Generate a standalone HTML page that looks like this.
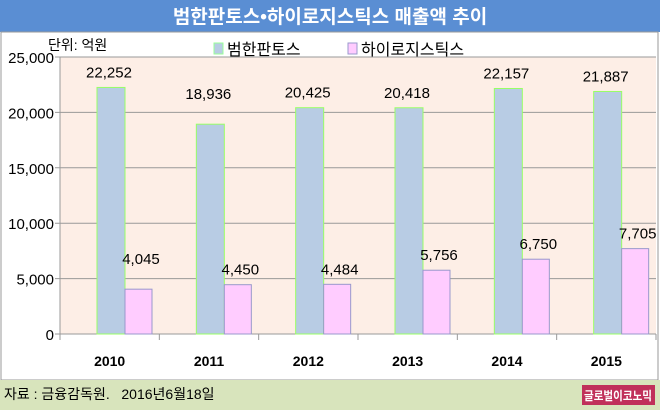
<!DOCTYPE html>
<html><head><meta charset="utf-8"><style>
body{margin:0;width:660px;height:410px;overflow:hidden;background:#fff;font-family:"Liberation Sans","Noto Sans CJK KR",sans-serif}
</style></head><body>
<svg width="660" height="410" id="svg" style="font-family:'Liberation Sans','Noto Sans CJK KR',sans-serif">
<rect x="0" y="0" width="660" height="32" fill="#5a8ed3"/>
<text x="330" y="23" text-anchor="middle" fill="#fff" font-size="19" font-weight="bold">범한판토스•하이로지스틱스 매출액 추이</text>
<rect x="1" y="32" width="657" height="348" fill="#fff" stroke="#999"/>
<rect x="0" y="380" width="660" height="30" fill="#d8e4bc"/>
<text x="4" y="399" font-size="14" fill="#000" xml:space="preserve" style="white-space:pre">자료 : 금융감독원.   2016년6월18일</text>
<rect x="582" y="385" width="73" height="20" fill="#c0305a"/>
<text x="618" y="400" text-anchor="middle" font-size="12" font-weight="bold" fill="#fff" textLength="68" lengthAdjust="spacingAndGlyphs">글로벌이코노믹</text>
<text x="48" y="50" font-size="14">단위: 억원</text>
<rect x="214" y="43" width="9" height="11" fill="#b8cce4" stroke="#9f9"/>
<text x="227" y="55" font-size="16">범한판토스</text>
<rect x="348" y="43" width="9" height="11" fill="#fcf" stroke="#99c"/>
<text x="361" y="55" font-size="16">하이로지스틱스</text>
<g id="plot"></g>
</svg>
<script>
const categories=["2010","2011","2012","2013","2014","2015"];
const pantos=[22252,18936,20425,20418,22157,21887];
const hilogis=[4045,4450,4484,5756,6750,7705];
const ticks=[0,5000,10000,15000,20000,25000];
const NS="http://www.w3.org/2000/svg";
const g=document.getElementById('plot');
const X0=60,X1=656,Y0=334,Y1=57,MAX=25000;
const bw=(X1-X0)/categories.length;
const y=v=>Y0-(v/MAX)*(Y0-Y1);
const xc=i=>X0+i*bw;
function mk(t,a){const e=document.createElementNS(NS,t);for(const k in a)e.setAttribute(k,a[k]);g.appendChild(e);return e;}
const bg=mk('rect',{x:X0,y:Y1,width:X1-X0,height:Y0-Y1,fill:'#fdeee6'});


ticks.forEach(t=>{
 const l=mk('line',{x1:X0-5,x2:X1,y1:y(t),y2:y(t),stroke:'#999','stroke-width':1});
 
 
 const tx=mk('text',{x:X0-6,y:y(t)+6,'text-anchor':'end','font-size':15});
 tx.textContent=t.toLocaleString('en-US');
 
 
});
const ax=mk('line',{x1:X0,x2:X0,y1:Y1,y2:Y0,stroke:'#999'});


categories.forEach((c,i)=>{
 const tk=mk('line',{x1:xc(i),x2:xc(i),y1:Y0,y2:Y0+6,stroke:'#999'});
 
 
 const bx=xc(i)+37;
 const b1=mk('rect',{x:bx,y:y(pantos[i]),width:28,height:Y0-y(pantos[i]),fill:'#b8cce4',stroke:'#9f6',"stroke-width":1});
 
 
 const b2=mk('rect',{x:bx+28,y:y(hilogis[i]),width:27,height:Y0-y(hilogis[i]),fill:'#fcf',stroke:'#99c',"stroke-width":1});
 
 
 const l1=mk('text',{x:bx+12,y:y(pantos[i])-(i==1?25:10),'text-anchor':'middle','font-size':15});
 l1.textContent=pantos[i].toLocaleString('en-US');
 
 
 const l2=mk('text',{x:bx+44,y:y(hilogis[i])-(i==0?25:10),'text-anchor':'middle','font-size':15});
 l2.textContent=hilogis[i].toLocaleString('en-US');
 
 
 const xl=mk('text',{x:xc(i)+bw/2,y:366,'text-anchor':'middle','font-size':14,'font-weight':'bold'});
 xl.textContent=c;
 
 
});
const tk=mk('line',{x1:X1,x2:X1,y1:Y0,y2:Y0+6,stroke:'#999'});


</script>
</body></html>
